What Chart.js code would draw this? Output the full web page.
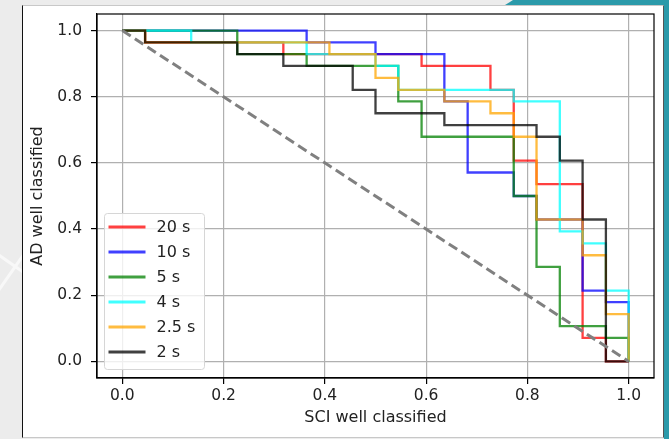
<!DOCTYPE html>
<html>
<head>
<meta charset="utf-8">
<script src="https://cdn.jsdelivr.net/npm/chart.js@4/dist/chart.umd.min.js"></script>
<style>
  html, body { margin:0; padding:0; width:669px; height:439px; overflow:hidden; background:#ececec; position:relative; }
  .stripe { position:absolute; background:#f8f8f8; height:3px; width:120px; transform-origin:0 0; }
  #tealTop { position:absolute; left:505px; top:0; width:164px; height:5px; background:#2b9aaa; clip-path:polygon(8px 0, 100% 0, 100% 100%, 0 100%); }
  #tealRight { position:absolute; right:0; top:0; width:5px; height:439px; background:#2b9aaa; }
  #panel { position:absolute; left:22px; top:5px; width:640px; height:431px; background:#ffffff;
           border-left:1px solid #111; border-top:1px solid #c8c8c8; border-right:1px solid #555; border-bottom:1px solid #c8c8c8; }
  #c { position:absolute; left:0; top:0; }
</style>
</head>
<body>
<div class="stripe" style="left:-10px; top:300px; transform:rotate(-55deg);"></div>
<div class="stripe" style="left:-20px; top:240px; transform:rotate(35deg);"></div>
<div id="tealTop"></div>
<div id="tealRight"></div>
<div id="panel"></div>
<canvas id="c" width="669" height="439"></canvas>
<script>
// ---- data ----
const seriesLabels = ['20 s', '10 s', '5 s', '4 s', '2.5 s', '2 s'];
const seriesColors = ['rgba(255,0,0,0.75)', 'rgba(0,0,255,0.75)', 'rgba(0,128,0,0.75)',
                      'rgba(0,255,255,0.75)', 'rgba(255,165,0,0.75)', 'rgba(0,0,0,0.75)'];

// step corners: x = SCI well classified, y = AD well classified
const x20s  = [0, 0.045, 0.318, 0.591, 0.727, 0.773, 0.818, 0.909, 0.955, 1.0];
const y20s  = [1, 0.964, 0.929, 0.893, 0.821, 0.607, 0.536, 0.071, 0.000, 0.0];
const x10s  = [0, 0.364, 0.500, 0.636, 0.682, 0.773, 0.818, 0.909, 0.955, 1.0];
const y10s  = [1, 0.964, 0.929, 0.786, 0.571, 0.500, 0.429, 0.214, 0.179, 0.0];
const x5s   = [0, 0.227, 0.364, 0.545, 0.591, 0.773, 0.818, 0.864, 0.955, 1.0];
const y5s   = [1, 0.929, 0.893, 0.786, 0.679, 0.500, 0.286, 0.107, 0.071, 0.0];
const x4s   = [0, 0.136, 0.364, 0.500, 0.545, 0.773, 0.864, 0.909, 0.955, 1.0];
const y4s   = [1, 0.964, 0.929, 0.893, 0.821, 0.786, 0.393, 0.357, 0.214, 0.0];
const x2_5s = [0, 0.045, 0.409, 0.500, 0.545, 0.636, 0.727, 0.773, 0.818, 0.909, 0.955, 1.0];
const y2_5s = [1, 0.964, 0.929, 0.857, 0.821, 0.786, 0.750, 0.679, 0.429, 0.321, 0.143, 0.0];
const x2s   = [0, 0.045, 0.227, 0.318, 0.455, 0.500, 0.636, 0.818, 0.864, 0.909, 0.955, 1.0];
const y2s   = [1, 0.964, 0.929, 0.893, 0.821, 0.750, 0.714, 0.679, 0.607, 0.429, 0.000, 0.0];

const refX = [0, 1];
const refY = [1, 0];

const xTicks = [0, 0.2, 0.4, 0.6, 0.8, 1.0];
const xTickLabels = ['0.0', '0.2', '0.4', '0.6', '0.8', '1.0'];
const yTicks = [0, 0.2, 0.4, 0.6, 0.8, 1.0];
const yTickLabels = ['0.0', '0.2', '0.4', '0.6', '0.8', '1.0'];
const xTitle = 'SCI well classified';
const yTitle = 'AD well classified';

// ---- build chart ----
const xs = [x20s, x10s, x5s, x4s, x2_5s, x2s];
const ys = [y20s, y10s, y5s, y4s, y2_5s, y2s];
const toPts = (X, Y) => X.map((v, i) => ({x: v, y: Y[i]}));

const datasets = seriesLabels.map((lab, i) => ({
  label: lab,
  data: toPts(xs[i], ys[i]),
  borderColor: seriesColors[i],
  backgroundColor: seriesColors[i],
  borderWidth: 2.3,
  pointRadius: 0,
  fill: false,
  stepped: 'before',
  order: seriesLabels.length - i
}));
datasets.push({
  label: 'ref',
  isRef: true,
  data: toPts(refX, refY),
  borderColor: 'rgba(128,128,128,1)',
  borderWidth: 3,
  borderDash: [10, 5],
  pointRadius: 0,
  fill: false,
  order: -1
});

const FONT = 'DejaVu Sans';
const FS = 16;
const TFS = 15.5;
const TXT = '#222222';

const framePlugin = {
  id: 'frameAndLegend',
  afterDatasetsDraw(chart) {
    const {ctx, chartArea: a} = chart;
    ctx.save();
    ctx.strokeStyle = '#000';
    ctx.lineWidth = 1.2;
    ctx.strokeRect(a.left, a.top, a.right - a.left, a.bottom - a.top);

    // legend box, lower left inside axes
    const ds = chart.data.datasets.filter(d => !d.isRef);
    const bx = a.left + 7.5, by2 = a.bottom - 8.5;
    const rowH = 25, bw = 100, bh = 156;
    const by = by2 - bh;
    const r = 3;
    ctx.beginPath();
    ctx.moveTo(bx + r, by);
    ctx.arcTo(bx + bw, by, bx + bw, by + bh, r);
    ctx.arcTo(bx + bw, by + bh, bx, by + bh, r);
    ctx.arcTo(bx, by + bh, bx, by, r);
    ctx.arcTo(bx, by, bx + bw, by, r);
    ctx.closePath();
    ctx.fillStyle = 'rgba(255,255,255,0.8)';
    ctx.fill();
    ctx.strokeStyle = '#d6d6d6';
    ctx.lineWidth = 1;
    ctx.stroke();

    ctx.font = FS + 'px "' + FONT + '"';
    ctx.textBaseline = 'middle';
    ctx.textAlign = 'left';
    ds.forEach((d, i) => {
      const yy = by + 13.5 + i * rowH;
      ctx.beginPath();
      ctx.moveTo(bx + 4, yy);
      ctx.lineTo(bx + 41, yy);
      ctx.strokeStyle = d.borderColor;
      ctx.lineWidth = 3;
      ctx.stroke();
      ctx.fillStyle = TXT;
      ctx.fillText(d.label, bx + 52, yy + 1);
    });
    ctx.restore();
  }
};

const axisCommon = (ticks, labels, title, fit, titlePad, tickPad) => ({
  type: 'linear',
  min: -0.05,
  max: 1.05,
  afterBuildTicks: s => { s.ticks = ticks.map(v => ({value: v})); },
  afterFit: s => {
    fit(s);
    s.paddingTop = 0; s.paddingBottom = 0; s.paddingLeft = 0; s.paddingRight = 0;
  },
  grid: { color: '#b0b0b0', lineWidth: 1.2, tickLength: 6, tickColor: '#000', drawTicks: true },
  border: { display: true, color: '#000', width: 1.2 },
  ticks: {
    autoSkip: false, maxRotation: 0, minRotation: 0,
    font: { family: FONT, size: TFS }, color: TXT, padding: tickPad,
    callback: (v, i) => labels[i]
  },
  title: { display: true, text: title, font: { family: FONT, size: FS }, color: TXT, padding: titlePad }
});

new Chart(document.getElementById('c'), {
  type: 'line',
  data: { datasets },
  options: {
    responsive: false,
    animation: false,
    devicePixelRatio: 1,
    layout: { padding: { top: 14, right: 15, left: 0, bottom: 0 } },
    plugins: { legend: { display: false }, tooltip: { enabled: false } },
    scales: {
      x: axisCommon(xTicks, xTickLabels, xTitle, s => { s.height = 61; }, { top: 0, bottom: 12 }, 3),
      y: axisCommon(yTicks, yTickLabels, yTitle, s => { s.width = 97; }, { top: 28, bottom: 0 }, 9)
    }
  },
  plugins: [framePlugin]
});
</script>
</body>
</html>
